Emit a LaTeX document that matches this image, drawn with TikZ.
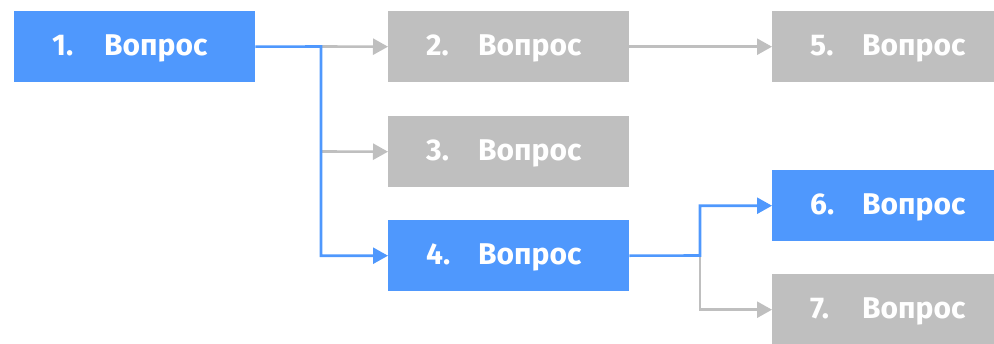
\documentclass[tikz,border=0pt]{standalone}
\usepackage{fontspec}
\setmainfont{Fira Sans}
\usetikzlibrary{arrows.meta}
\definecolor{qblue}{HTML}{4F98FD}
\definecolor{qgray}{HTML}{BFBFBF}
\tikzset{
  qbox/.style={anchor=north west, minimum height=71pt, inner xsep=38pt, inner ysep=0pt,
    text height=21pt, text depth=3pt,
    text=white, font=\fontsize{30}{32}\selectfont\bfseries, align=left},
  wide/.style={minimum width=241pt, text width=165pt},
  narrow/.style={minimum width=222pt, text width=146pt},
  active/.style={fill=qblue},
  idle/.style={fill=qgray},
  conn/.style={line width=2.6pt, -{Triangle[length=15pt,width=16pt]}},
  bline/.style={conn, draw=qblue},
  gline/.style={conn, draw=qgray},
}
\newcommand{\qlabel}[1]{\makebox[52pt][l]{#1}Вопрос}
\begin{document}
\begin{tikzpicture}[x=1pt,y=-1pt]
\useasboundingbox (0,0) rectangle (994,343);
\node[qbox,wide,active] (b1) at (14,11) {\qlabel{1.}};
\node[qbox,wide,idle] (b2) at (388,11) {\qlabel{2.}};
\node[qbox,wide,idle] (b3) at (388,116) {\qlabel{3.}};
\node[qbox,wide,active] (b4) at (388,220) {\qlabel{4.}};
\node[qbox,narrow,idle] (b5) at (772,11) {\qlabel{5.}};
\node[qbox,narrow,active] (b6) at (772,170) {\qlabel{6.}};
\node[qbox,narrow,idle] (b7) at (772,274) {\qlabel{7.}};
\coordinate (j1) at (321,46.5);
\coordinate (j3) at (321,151.5);
\coordinate (j2) at (700,255.5);
\draw[gline] (j1) -- (b2.west);
\draw[gline] (j3) -- (b3.west);
\draw[gline] (b2.east) -- (b5.west);
\draw[gline] (j2) |- (b7.west);
\draw[bline,line join=miter] (b1.east) -- (j1) |- (b4.west);
\draw[bline,line join=miter] (b4.east) -- (j2) |- (b6.west);
\end{tikzpicture}
\end{document}
